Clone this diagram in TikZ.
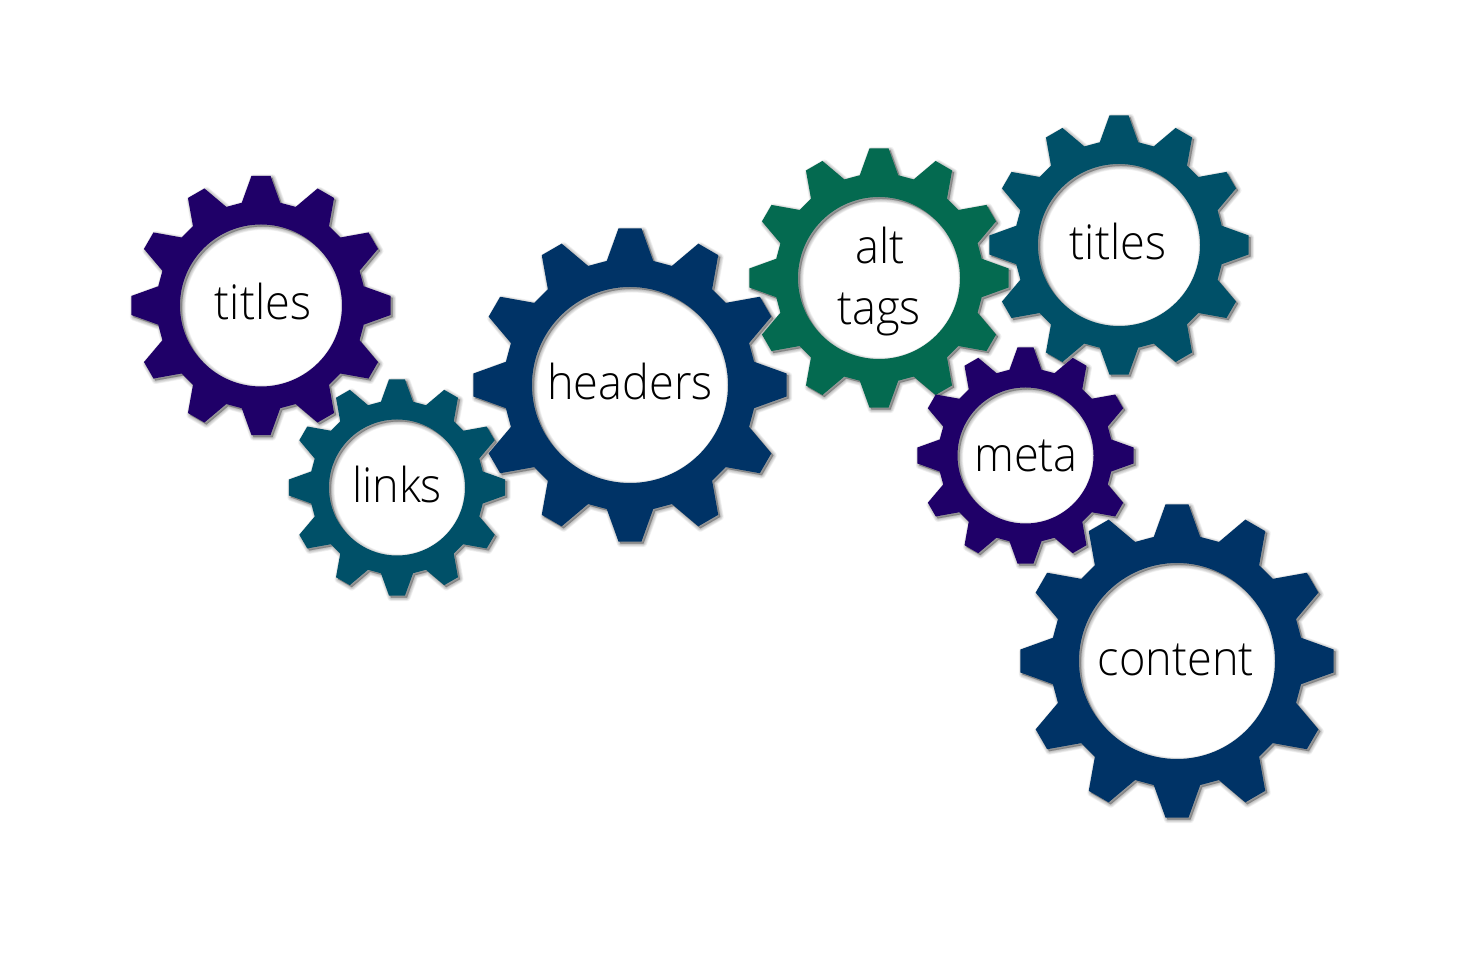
\documentclass[tikz,border=0pt]{standalone}
\usepackage{fontspec}
\setmainfont{Open Sans Light}[FakeStretch=0.94]
\definecolor{cPurple}{HTML}{1F0068}
\definecolor{cTeal}{HTML}{005068}
\definecolor{cNavy}{HTML}{003366}
\definecolor{cGreen}{HTML}{046A50}
\tikzset{
  gearshadow/.style={fill=black,draw=black,even odd rule,line join=round,opacity=0.055},
  gearbody/.style={even odd rule},
  geartext/.style={anchor=base,inner sep=0pt,font=\fontsize{48}{61}\selectfont,text=black},
}
% outer radius, hole radius
\newcommand{\gearoutline}[2]{%
  (-4.2:#1) \foreach \a in {0,30,...,330}{ -- (\a-4.2:#1) -- (\a+4.2:#1) -- (\a+10.6:0.804*#1) -- (\a+19.4:0.804*#1)} -- cycle (0,0) circle (#2)}
% cx, cy (image px), outer radius, hole radius, colour
\newcommand{\gear}[5]{%
  \begin{scope}[shift={(#1,958-#2)}]
    \begin{scope}[shift={(2,-2)}]
      \path[gearshadow,line width=7pt] \gearoutline{#3}{#4};
      \path[gearshadow,line width=5.6pt] \gearoutline{#3}{#4};
      \path[gearshadow,line width=4.2pt] \gearoutline{#3}{#4};
      \path[gearshadow,line width=2.8pt] \gearoutline{#3}{#4};
      \path[gearshadow,line width=1.4pt] \gearoutline{#3}{#4};
      \path[gearshadow,line width=0.2pt] \gearoutline{#3}{#4};
    \end{scope}
    \path[gearbody,fill=#5] \gearoutline{#3}{#4};
  \end{scope}}
\begin{document}
\begin{tikzpicture}[x=1pt,y=1pt]
\useasboundingbox (0,0) rectangle (1464,958);
\fill[white] (0,0) rectangle (1464,958);
\gear{261}{305.5}{130}{81}{cPurple}
\gear{397}{487.5}{108.5}{68}{cTeal}
\gear{630}{385}{157}{98}{cNavy}
\gear{879}{278}{130}{81}{cGreen}
\gear{1119}{245}{130}{81}{cTeal}
\gear{1025.5}{455.5}{108.5}{68}{cPurple}
\gear{1177}{661}{157}{98}{cNavy}
\node[geartext] (t1) at (263,958-320) {titles};
\node[geartext] (t2) at (397,958-503) {links};
\node[geartext] (t3) at (630,958-400) {headers};
\node[geartext] (t4a) at (880,958-264) {alt};
\node[geartext] (t4b) at (879,958-325) {tags};
\node[geartext] (t5) at (1118,958-260) {titles};
\node[geartext] (t6) at (1026,958-472) {meta};
\node[geartext] (t7) at (1176,958-676) {content};
\end{tikzpicture}
\end{document}
